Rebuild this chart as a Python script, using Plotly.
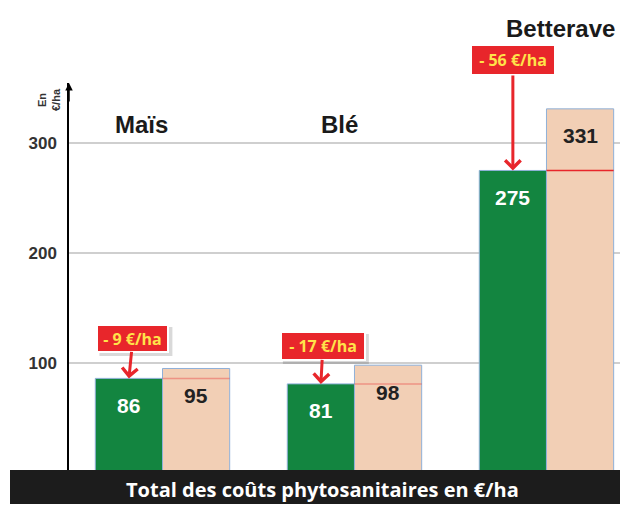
import plotly.graph_objects as go

# ---- data ----
categories = ["Maïs", "Blé", "Betterave"]
reduced_costs = [86, 81, 275]      # green bars
reference_costs = [95, 98, 331]    # beige bars
savings_labels = ["- 9 €/ha", "- 17 €/ha", "- 56 €/ha"]
y_ticks = [100, 200, 300]
y_title = "En<br>€/ha"
footer_text = "Total des coûts phytosanitaires en €/ha"

# ---- style / layout ----
GREEN = "#138540"
BEIGE = "#f2cfb5"
OUTLINE = "#8fb0d8"
RED = "#e8262b"
YELLOW = "#ffe34a"
ARIAL = "Liberation Sans, Arial, sans-serif"
CALIBRI = "Open Sans, sans-serif"

W, H = 620, 505
L, R, T, B = 69, 0, 83, 32
PW, PH = W - L - R, H - T - B          # 551 x 390 plot area
PX0, PY0 = L, T + PH                   # plot-area left / bottom in page pixels (69, 473)
YMAX = 354.5
bargap = 0.30
half = (1 - bargap) / 2
xpos = list(range(len(categories)))


def px(xp):
    return (xp - PX0) / PW


def py(yp):
    return (PY0 - yp) / PH


fig = go.Figure()
fig.add_trace(go.Bar(x=xpos, y=reduced_costs, marker=dict(color=GREEN, line=dict(color=OUTLINE, width=1)),
                     hoverinfo="skip", name="réduit"))
fig.add_trace(go.Bar(x=xpos, y=reference_costs, marker=dict(color=BEIGE, line=dict(color=OUTLINE, width=1)),
                     hoverinfo="skip", name="référence"))

shapes = []
annotations = []

# red level line across beige bars at the green level
line_opacity = [0.35, 0.35, 1.0]
for i, v in enumerate(reduced_costs):
    shapes.append(dict(type="line", xref="x", yref="y", x0=i, x1=i + half, y0=v, y1=v,
                       line=dict(color=RED, width=1.5), opacity=line_opacity[i], layer="above"))

# value labels
for i, (g, b) in enumerate(zip(reduced_costs, reference_costs)):
    annotations.append(dict(x=i - half / 2, y=g, xref="x", yref="y", text=f"<b>{g}</b>", showarrow=False,
                            yshift=-27, yanchor="middle", font=dict(family=ARIAL, size=21, color="white")))
    annotations.append(dict(x=i + half / 2, y=b, xref="x", yref="y", text=f"<b>{b}</b>", showarrow=False,
                            yshift=-27, yanchor="middle", font=dict(family=ARIAL, size=21, color="#222222")))

# category labels (page pixel positions)
cat_pos = [(141, 125), (339, 125), (560, 28)]
for i, name in enumerate(categories):
    xp, yp = cat_pos[i]
    annotations.append(dict(x=px(xp), y=py(yp), xref="paper", yref="paper", text=f"<b>{name}</b>",
                            xanchor="center", yanchor="middle", showarrow=False,
                            font=dict(family=ARIAL, size=24, color="#1a1a1a")))

# savings boxes with arrows: (ax, ay, inner width, inner height)
box_geo = [(4, -40, 63, 19), (2, -38, 76, 20), (0, -110, 76, 22)]
PAD, BORDER = 3, 2
for i, txt in enumerate(savings_labels):
    ax, ay, bw, bh = box_geo[i]
    ow, oh = bw + 2 * (PAD + BORDER), bh + 2 * (PAD + BORDER)
    # soft drop shadow (pixel-sized shape anchored on the bar top)
    shapes.append(dict(type="rect", xref="x", yref="y", xsizemode="pixel", ysizemode="pixel",
                       xanchor=i - half / 2, yanchor=reduced_costs[i],
                       x0=ax - ow / 2 + 3, x1=ax + ow / 2 + 3,
                       y0=-ay - oh / 2 - 3, y1=-ay + oh / 2 - 3,
                       fillcolor="rgba(0,0,0,0.15)", line=dict(width=0), layer="above"))
    annotations.append(dict(x=i - half / 2, y=reduced_costs[i], xref="x", yref="y",
                            text=f"<b>{txt}</b>", showarrow=True, ax=ax, ay=ay,
                            arrowhead=4, arrowsize=1, arrowwidth=3, arrowcolor=RED, standoff=0,
                            bgcolor=RED, bordercolor="white", borderwidth=BORDER, borderpad=PAD,
                            width=bw, height=bh,
                            font=dict(family=CALIBRI, size=16, color=YELLOW)))

# y axis title
annotations.append(dict(x=px(49), y=py(100), xref="paper", yref="paper",
                        text=f"<b>{y_title}</b>", textangle=-90, showarrow=False,
                        xanchor="center", yanchor="middle",
                        font=dict(family=ARIAL, size=11, color="#333333")))
# arrow on top of y axis
annotations.append(dict(x=0, y=1, xref="paper", yref="paper", text="", showarrow=True,
                        ax=0, ay=20, arrowhead=2, arrowsize=1, arrowwidth=1.5, arrowcolor="black"))

# footer band
shapes.append(dict(type="rect", xref="paper", yref="paper", x0=px(10), x1=1,
                   y0=py(504), y1=py(470), fillcolor="#1c1c1c",
                   line=dict(width=0), layer="above"))
annotations.append(dict(x=px(322), y=py(489), xref="paper", yref="paper",
                        text=f"<b>{footer_text}</b>", showarrow=False,
                        xanchor="center", yanchor="middle",
                        font=dict(family=CALIBRI, size=20, color="white")))

fig.update_layout(
    width=W, height=H, margin=dict(l=L, r=R, t=T, b=B, autoexpand=False),
    paper_bgcolor="white", plot_bgcolor="white",
    barmode="group", bargap=bargap, bargroupgap=0, showlegend=False,
    xaxis=dict(range=[-0.487, 2.383], showticklabels=False, showgrid=False, zeroline=False,
               showline=False, fixedrange=True),
    yaxis=dict(range=[0, YMAX], tickvals=y_ticks, ticks="", showgrid=True, gridcolor="#cfcfcf",
               gridwidth=1.5, zeroline=False, showline=True, linecolor="black", linewidth=1.5,
               ticklabelstandoff=7,
               tickfont=dict(family=ARIAL, size=17, color="#333333", weight="bold")),
    shapes=shapes, annotations=annotations,
)

fig.write_html("out.html", config={"displayModeBar": False},
               post_script="document.body.style.margin='0';document.body.style.overflow='hidden';")
